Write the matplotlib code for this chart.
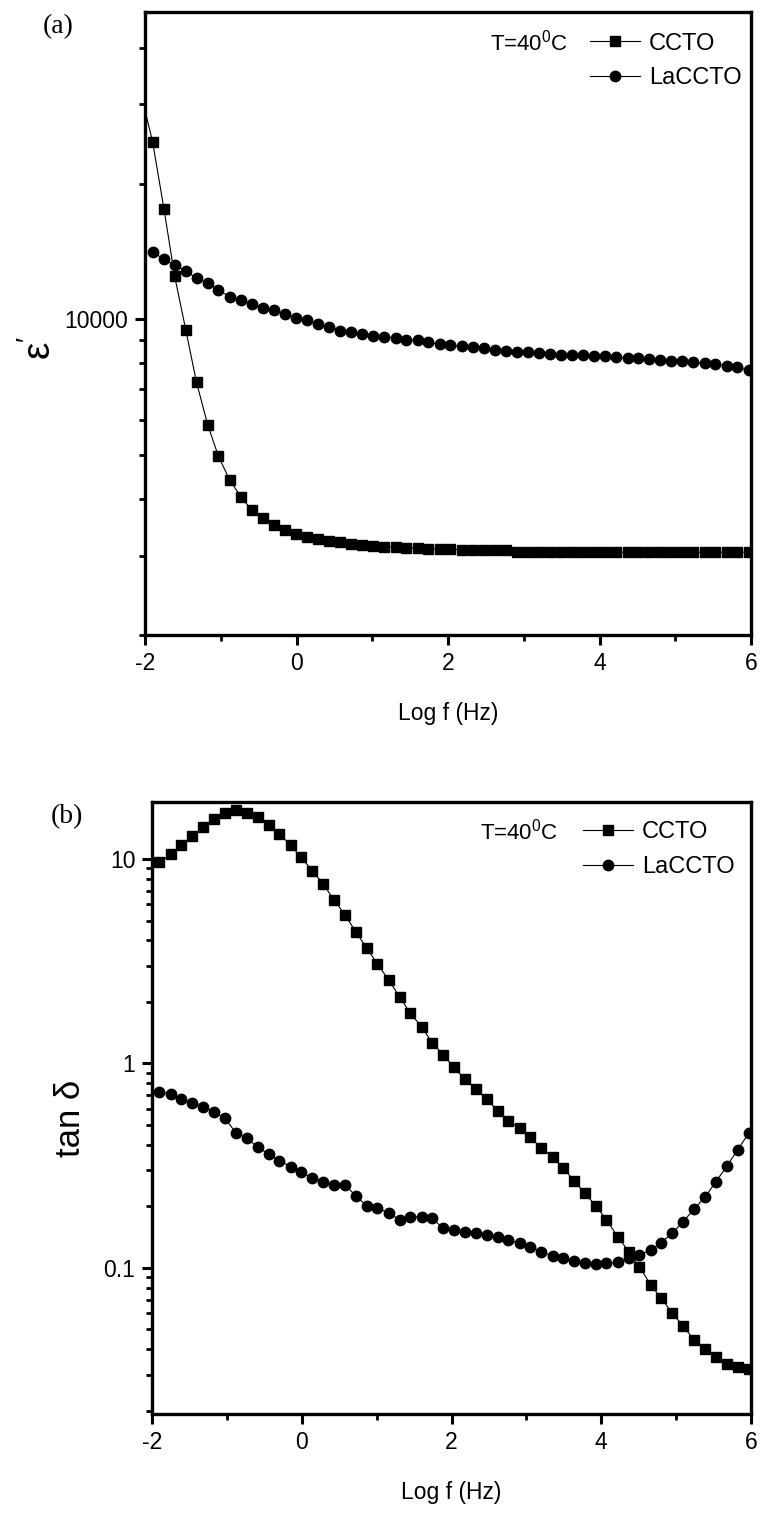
import matplotlib
matplotlib.use("Agg")
import matplotlib.pyplot as plt
from matplotlib.lines import Line2D
from matplotlib.ticker import FixedLocator, NullFormatter, FixedFormatter

# ---------------- data ----------------
log_f = [-1.90, -1.75, -1.61, -1.46, -1.32, -1.17, -1.03, -0.88, -0.73, -0.59,
         -0.44, -0.30, -0.15, -0.01, 0.14, 0.29, 0.43, 0.58, 0.72, 0.87,
         1.01, 1.16, 1.31, 1.45, 1.60, 1.74, 1.89, 2.03, 2.18, 2.33,
         2.47, 2.62, 2.76, 2.91, 3.05, 3.20, 3.35, 3.49, 3.64, 3.78,
         3.93, 4.07, 4.22, 4.37, 4.51, 4.66, 4.80, 4.95, 5.09, 5.24,
         5.39, 5.53, 5.68, 5.82, 5.97]

# panel (a): real permittivity
eps_ccto_start = (-2.0, 29100)   # line starts at axis edge
eps_ccto = [24760, 17600, 12510, 9455, 7256, 5828, 4976, 4403, 4038, 3780,
            3629, 3502, 3413, 3344, 3294, 3261, 3228, 3211, 3179, 3163,
            3147, 3131, 3131, 3125, 3115, 3105, 3104, 3100, 3085, 3080,
            3080, 3080, 3078, 3060, 3051, 3051, 3051, 3051, 3051, 3051,
            3051, 3051, 3051, 3051, 3051, 3051, 3051, 3051, 3051, 3051,
            3051, 3051, 3051, 3051, 3051]
eps_laccto = [14140, 13590, 13210, 12810, 12340, 12070, 11610, 11230, 11030, 10850,
              10630, 10490, 10270, 10070, 9965, 9763, 9634, 9440, 9359, 9279,
              9202, 9156, 9092, 9000, 9000, 8895, 8818, 8790, 8715, 8671,
              8626, 8553, 8496, 8480, 8454, 8410, 8380, 8353, 8353, 8337,
              8310, 8282, 8240, 8211, 8199, 8170, 8144, 8102, 8075, 8035,
              7993, 7965, 7898, 7831, 7723]

# panel (b): loss tangent
tan_ccto = [9.63, 10.54, 11.71, 12.96, 14.29, 15.64, 16.73, 17.36, 16.84, 16.09,
            14.66, 13.25, 11.71, 10.19, 8.77, 7.52, 6.30, 5.32, 4.41, 3.66,
            3.07, 2.56, 2.11, 1.76, 1.514, 1.264, 1.100, 0.958, 0.837, 0.748,
            0.668, 0.586, 0.525, 0.482, 0.436, 0.385, 0.350, 0.307, 0.267, 0.232,
            0.201, 0.172, 0.142, 0.120, 0.1015, 0.0826, 0.0711, 0.0601, 0.0521, 0.0445,
            0.0402, 0.0368, 0.0339, 0.0327, 0.0320]
tan_laccto = [0.728, 0.707, 0.668, 0.639, 0.611, 0.581, 0.540, 0.459, 0.431, 0.389,
              0.361, 0.335, 0.313, 0.294, 0.276, 0.264, 0.255, 0.255, 0.225, 0.201,
              0.197, 0.185, 0.172, 0.178, 0.178, 0.175, 0.156, 0.153, 0.150, 0.148,
              0.145, 0.142, 0.137, 0.132, 0.127, 0.120, 0.1145, 0.1115, 0.1085, 0.1061,
              0.1046, 0.1054, 0.1066, 0.1115, 0.1158, 0.1225, 0.133, 0.148, 0.168, 0.194,
              0.223, 0.264, 0.315, 0.378, 0.456]

series_names = ["CCTO", "LaCCTO"]
x_major = [-2, 0, 2, 4, 6]
x_minor = [-1, 1, 3, 5]
a_major = [10000]
a_major_labels = ["10000"]
a_minor = [2000, 3000, 4000, 5000, 6000, 7000, 8000, 9000, 20000, 30000, 40000]
b_major = [0.1, 1, 10]
b_major_labels = ["0.1", "1", "10"]
b_minor = [0.02, 0.03, 0.04, 0.05, 0.06, 0.07, 0.08, 0.09,
           0.2, 0.3, 0.4, 0.5, 0.6, 0.7, 0.8, 0.9,
           2, 3, 4, 5, 6, 7, 8, 9]

# ---------------- style ----------------
plt.rcParams["font.family"] = ["Liberation Sans", "DejaVu Sans"]
plt.rcParams["axes.unicode_minus"] = False
plt.rcParams["mathtext.fontset"] = "custom"
plt.rcParams["mathtext.rm"] = "Liberation Sans"
plt.rcParams["mathtext.it"] = "Liberation Sans:italic"

W, H = 763, 1513
fig = plt.figure(figsize=(W / 100, H / 100), dpi=100)

def px_axes(l, t, r, b):
    return fig.add_axes([l / W, 1 - b / H, (r - l) / W, (b - t) / H])

ax1 = px_axes(145, 12, 751, 635)
ax2 = px_axes(152, 802, 751, 1414)

tick_fs = 16.5
for ax in (ax1, ax2):
    for s in ax.spines.values():
        s.set_linewidth(2.4)
    ax.set_xlim(-2, 6)
    ax.xaxis.set_major_locator(FixedLocator(x_major))
    ax.xaxis.set_minor_locator(FixedLocator(x_minor))
    ax.tick_params(axis="both", which="major", direction="out", length=7, width=2.2,
                   labelsize=tick_fs, pad=5, top=False, right=False)
    ax.tick_params(axis="both", which="minor", direction="out", length=4.5, width=2.0,
                   top=False, right=False)
    ax.set_xlabel("Log f (Hz)", fontsize=16.5, labelpad=20)

# panel (a)
ax1.set_yscale("log")
ax1.set_ylim(2000, 48000)
ax1.yaxis.set_major_locator(FixedLocator(a_major))
ax1.yaxis.set_major_formatter(FixedFormatter(a_major_labels))
ax1.yaxis.set_minor_locator(FixedLocator(a_minor))
ax1.yaxis.set_minor_formatter(NullFormatter())

ax1.plot([eps_ccto_start[0]] + log_f, [eps_ccto_start[1]] + eps_ccto,
         color="black", lw=0.8, zorder=2)
ax1.plot(log_f, eps_ccto, ls="none", marker="s", ms=7, color="black", zorder=3)
ax1.plot(log_f, eps_laccto, color="black", lw=0.8, marker="o", ms=7.5, zorder=3)

# panel (b)
ax2.set_yscale("log")
ax2.set_ylim(0.0193, 19)
ax2.yaxis.set_major_locator(FixedLocator(b_major))
ax2.yaxis.set_major_formatter(FixedFormatter(b_major_labels))
ax2.yaxis.set_minor_locator(FixedLocator(b_minor))
ax2.yaxis.set_minor_formatter(NullFormatter())
ax2.plot(log_f, tan_ccto, color="black", lw=0.8, marker="s", ms=7, zorder=3)
ax2.plot(log_f, tan_laccto, color="black", lw=0.8, marker="o", ms=7.5, zorder=3)

# y labels
fig.text(40 / W, 1 - 348 / H, r"ε$^{\prime}$", rotation=90, fontsize=28,
         ha="center", va="center")
fig.text(71 / W, 1 - 1118 / H, "tan δ", rotation=90, fontsize=25,
         ha="center", va="center")

# legends and temperature labels
handles = [Line2D([], [], color="black", lw=0.8, marker="s", ms=7),
           Line2D([], [], color="black", lw=0.8, marker="o", ms=7.5)]

def add_legend(ax, tx, ty, lx, ly, axl, axt, axr, axb):
    fx = lambda p: (p - axl) / (axr - axl)
    fy = lambda p: (axb - p) / (axb - axt)
    ax.text(fx(tx), fy(ty), r"T=40$^0$C", transform=ax.transAxes, fontsize=16,
            ha="left", va="center")
    ax.legend(handles, series_names, loc="upper left", bbox_to_anchor=(fx(lx), fy(ly)),
              frameon=False, fontsize=17, handlelength=2.1, handletextpad=0.4,
              labelspacing=0.55, borderpad=0, borderaxespad=0)

add_legend(ax1, 490, 43, 590, 32.5, 145, 12, 751, 635)
add_legend(ax2, 480, 832, 583, 821.5, 152, 802, 751, 1414)

fig.text(58 / W, 1 - 27 / H, "(a)", fontsize=20, family="Liberation Serif",
         ha="center", va="center")
fig.text(67 / W, 1 - 817 / H, "(b)", fontsize=20, family="Liberation Serif",
         ha="center", va="center")

fig.savefig("out.png", dpi=100)
